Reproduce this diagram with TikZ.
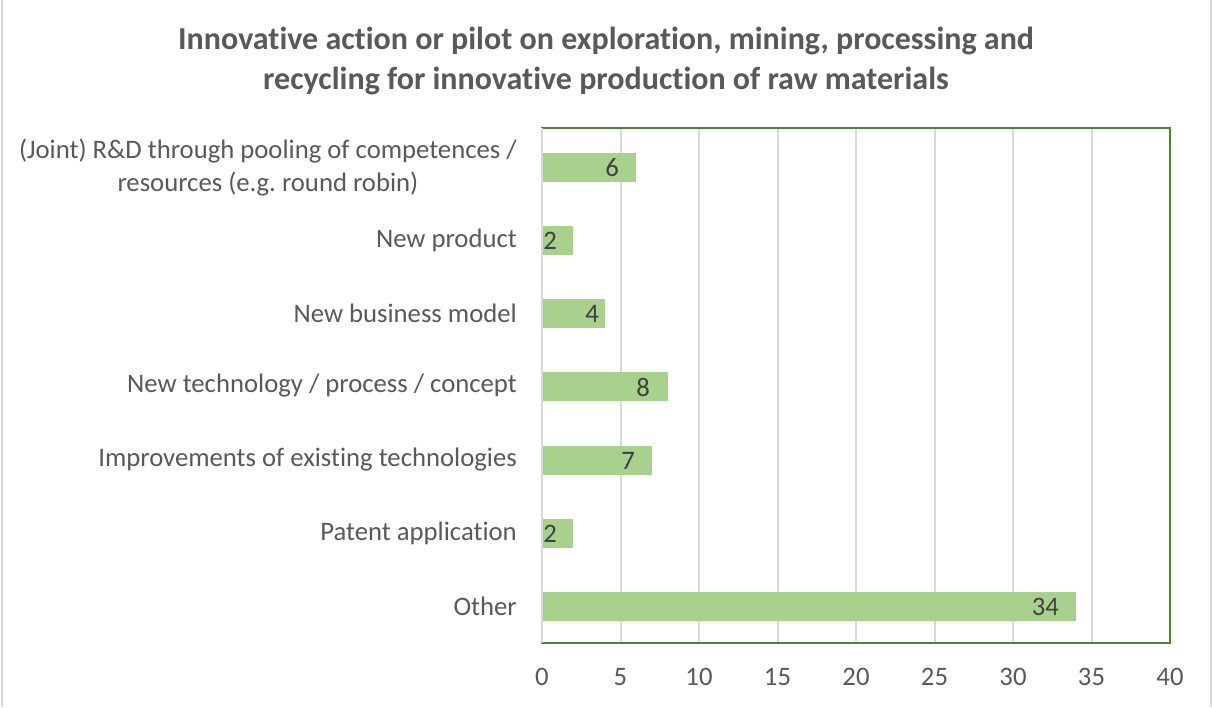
\documentclass[tikz,border=0pt]{standalone}
\usepackage{fontspec}
\setmainfont{Carlito}[RawFeature={-liga}]
\frenchspacing
\definecolor{txt}{HTML}{595959}
\definecolor{bartxt}{HTML}{404040}
\definecolor{barc}{HTML}{A9D18E}
\definecolor{grid}{HTML}{D9D9D9}
\definecolor{frame}{HTML}{548235}
\definecolor{edge}{HTML}{D9D9D9}
\tikzset{
  catlabel/.style={anchor=east, text=txt, font=\fontsize{26.7}{33}\selectfont, align=center, inner sep=0pt},
  ticklabel/.style={anchor=center, text=txt, font=\fontsize{26.7}{33}\selectfont, inner sep=0pt},
  barlabel/.style={anchor=east, text=bartxt, font=\fontsize{26.7}{33}\selectfont, inner sep=0pt},
  bar/.style={fill=barc, draw=none},
  gridline/.style={draw=grid, line width=2pt},
  titletext/.style={text=txt, font=\bfseries\fontsize{32}{40}\selectfont, align=center, inner sep=0pt}
}
\begin{document}
\begin{tikzpicture}[x=1pt,y=-1pt]
\useasboundingbox (0,0) rectangle (1212,707);
\fill[white] (0,0) rectangle (1212,707);
\draw[edge, line width=2pt] (1.5,0) -- (1.5,707);
\draw[edge, line width=2pt] (1210.5,0) -- (1210.5,707);
% title
\node[titletext] (title) at (606,61) {Innovative action or pilot on exploration, mining, processing and\\recycling for innovative production of raw materials};
% grid
\foreach \v in {5,10,...,35} {
  \draw[gridline] ({542+\v*15.7},128) -- ({542+\v*15.7},643);
}
% frame
\draw[frame, line width=2pt] (542,128) rectangle (1170,643);
\draw[gridline] (542,128) -- (542,643);
% tick labels
\foreach \v in {0,5,...,40} {
  \node[ticklabel] (t\v) at ({542+\v*15.7},677) {\v};
}
% bars
\foreach \i/\val/\yc/\lx in {a/6/167/619, b/2/240/557, c/4/313/599, d/8/386/650, e/7/460/635, f/2/533/557, g/34/606/1059} {
  \fill[bar] (543,\yc-14.5) rectangle ({542+\val*15.7},\yc+14.5);
  \node[barlabel] (v\i) at (\lx,\yc+1) {\val};
}
% category labels
\node[catlabel] (ca) at (517,168) {(Joint) R\&D through pooling of competences /\\resources (e.g. round robin)};
\node[catlabel] (cb) at (517,240) {New product};
\node[catlabel] (cc) at (517,313) {New business model};
\node[catlabel] (cd) at (517,386) {New technology / process / concept};
\node[catlabel] (ce) at (517,460) {Improvements of existing technologies};
\node[catlabel] (cf) at (517,533) {Patent application};
\node[catlabel] (cg) at (517,606) {Other};
\end{tikzpicture}
\end{document}
